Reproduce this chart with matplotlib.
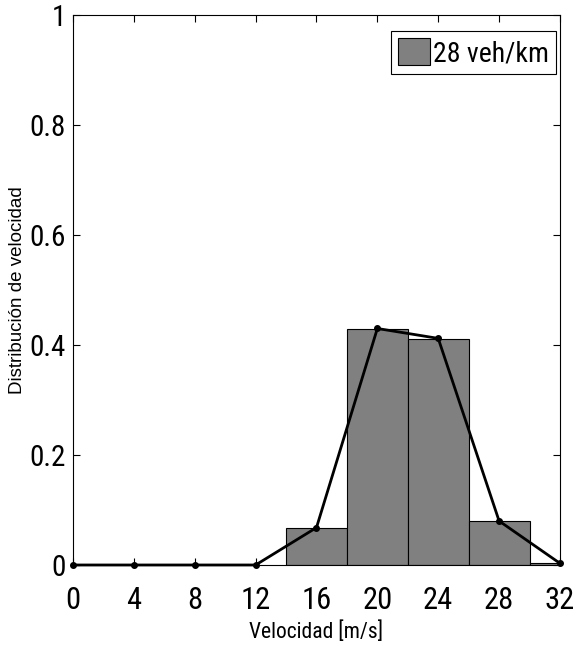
import numpy as np
import matplotlib
matplotlib.use("Agg")
import matplotlib.pyplot as plt

plt.rcParams['font.family'] = ['Roboto Condensed', 'Liberation Sans', 'DejaVu Sans']

# histogram bins (centres) and heights
bin_centres = [16, 20, 24, 28, 32]
bin_heights = [0.068, 0.429, 0.411, 0.080, 0.004]

# distribution line
speeds = [0, 4, 8, 12, 16, 20, 24, 28, 32]
dist = [0, 0, 0, 0, 0.068, 0.430, 0.412, 0.080, 0.003]

xticks = [0, 4, 8, 12, 16, 20, 24, 28, 32]
yticks = [0, 0.2, 0.4, 0.6, 0.8, 1]
ytick_labels = ['0', '0.2', '0.4', '0.6', '0.8', '1']

fig = plt.figure(figsize=(5.77, 6.46), dpi=100)
ax = fig.add_axes([0.1265, 0.1254, 0.844, 0.8514])

ax.bar(bin_centres, bin_heights, width=4, color='#808080', edgecolor='black',
       linewidth=0.8, label='28 veh/km', zorder=2)
ax.plot(speeds, dist, color='black', lw=2, marker='o', ms=4, zorder=3, clip_on=False)

ax.set_xlim(0, 32)
ax.set_ylim(0, 1)
ax.set_xticks(xticks)
ax.set_xticklabels([str(t) for t in xticks])
ax.set_yticks(yticks)
ax.set_yticklabels(ytick_labels)
ax.tick_params(direction='in', top=True, right=True, labelsize=22, length=5, width=0.8)
ax.tick_params(axis='x', pad=15)
ax.tick_params(axis='y', pad=5, labelsize=21)
for s in ax.spines.values():
    s.set_linewidth(0.8)

ax.set_xlabel('Velocidad [m/s]', fontsize=15.5, labelpad=5)
ax.set_ylabel('Distribución de velocidad', fontsize=13.5, family=['Liberation Sans', 'DejaVu Sans'])
ax.yaxis.set_label_coords(-0.097, 0.5)

leg = ax.legend(loc='upper right', bbox_to_anchor=(0.992, 0.971), fontsize=20,
                fancybox=False, edgecolor='black', framealpha=1,
                handlelength=1.15, handleheight=1.15, handletextpad=0.1,
                borderpad=0.25, borderaxespad=0)
leg.get_frame().set_linewidth(0.8)

fig.savefig('out.png', dpi=100)
